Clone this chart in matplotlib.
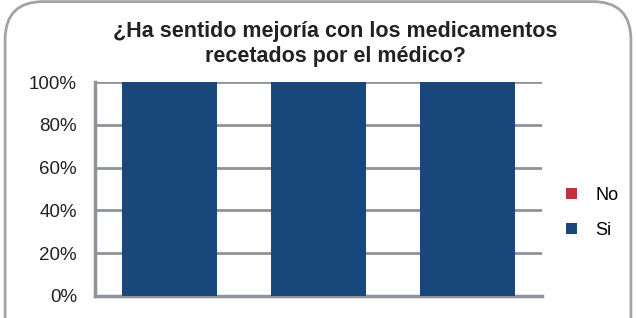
import matplotlib.pyplot as plt
from matplotlib.patches import FancyBboxPatch
from matplotlib.ticker import FuncFormatter

categories = ['1', '2', '3']
si_values = [100, 100, 100]
no_values = [0, 0, 0]
yticks = [0, 20, 40, 60, 80, 100]

blue = '#17477B'
red = '#C3303B'
grid = '#8E9399'

plt.rcParams['font.family'] = ['Liberation Sans', 'DejaVu Sans']

fig = plt.figure(figsize=(6.36, 3.18), dpi=100)

# marco redondeado
frame = FancyBboxPatch((0.008, -0.2), 0.984, 1.195, boxstyle='round,pad=0,rounding_size=0.06',
                       transform=fig.transFigure, facecolor='none', edgecolor='#A0A4A8',
                       linewidth=2, mutation_aspect=2, zorder=-1)
fig.patches.append(frame)

ax = fig.add_axes([95 / 636, 1 - 296 / 318, 447 / 636, 214 / 318])
x = range(len(categories))
ax.bar(x, si_values, width=0.635, color=blue, label='Si', zorder=3)
ax.bar(x, no_values, bottom=si_values, width=0.635, color=red, label='No', zorder=3)

ax.set_xlim(-0.5, 2.5)
ax.set_ylim(0, 100)
ax.set_yticks(yticks)
ax.yaxis.set_major_formatter(FuncFormatter(lambda v, p: f'{int(v)}%'))
ax.set_xticks([])
ax.grid(axis='y', color=grid, linewidth=2, zorder=0)
ax.tick_params(axis='y', length=0, labelsize=13.5, pad=13, colors='#222222')
for s in ['top', 'right']:
    ax.spines[s].set_visible(False)
for s in ['left', 'bottom']:
    ax.spines[s].set_color(grid)
    ax.spines[s].set_linewidth(2.5)

handles, labels = ax.get_legend_handles_labels()
fig.legend(handles[::-1], labels[::-1], loc='center left', bbox_to_anchor=(0.865, 0.33),
           frameon=False, fontsize=13, handlelength=0.6, handleheight=0.6,
           labelspacing=1.0, handletextpad=1.0)

fig.text(0.527, 0.862, '¿Ha sentido mejoría con los medicamentos\nrecetados por el médico?',
         ha='center', va='center', fontsize=15.5, fontweight='bold', color='#222222',
         linespacing=1.25)

fig.savefig('out.png', dpi=100)
